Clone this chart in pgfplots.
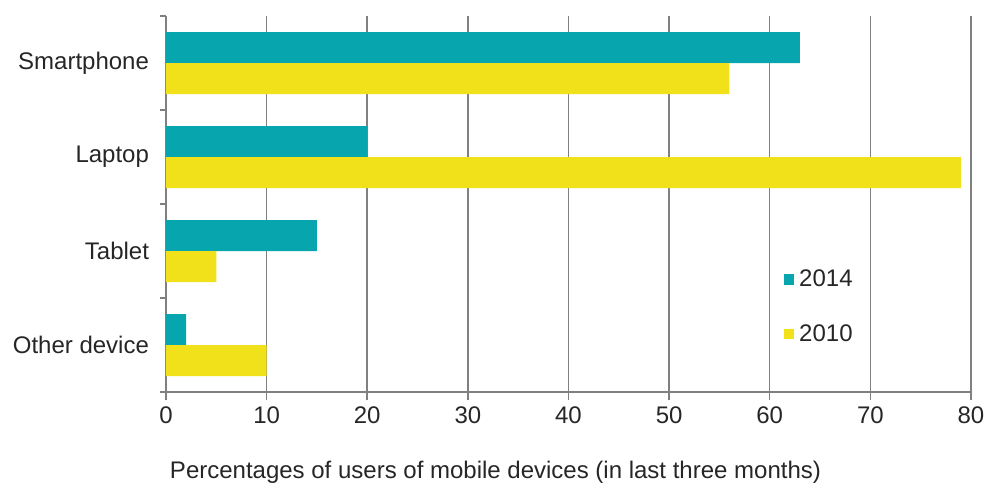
\documentclass[border=0pt]{standalone}
\usepackage{pgfplots}
\pgfplotsset{compat=1.18}
\usepackage{fontspec}
\setmainfont{Liberation Sans}

\definecolor{tealbar}{RGB}{7,166,174}
\definecolor{yellowbar}{RGB}{241,225,26}
\definecolor{gridgrey}{RGB}{128,128,128}

\begin{document}
\begin{tikzpicture}
% fixed canvas around the plot area
\useasboundingbox (-83pt,-48pt) rectangle (410.5pt,196pt);
\begin{axis}[
  at={(0,0)}, anchor=south west,
  scale only axis,
  width=402.5pt, height=188pt,
  xbar,
  bar width=15.5pt,
  xmin=0, xmax=80,
  ymin=-0.5, ymax=3.5,
  xtick={0,10,...,80},
  ytick={0,1,2,3},
  yticklabels={Other device,Tablet,Laptop,Smartphone},
  minor ytick={-0.5,0.5,1.5,2.5,3.5},
  major tick length=4pt,
  minor tick length=3pt,
  major x tick style={draw=gridgrey, line width=0.75pt},
  major y tick style={draw=none},
  minor y tick style={draw=gridgrey, line width=0.75pt},
  tick align=outside,
  axis lines*=left,
  axis line style={draw=gridgrey, line width=0.75pt},
  xmajorgrids,
  major x grid style={draw=gridgrey, line width=0.75pt},
  /pgf/number format/assume math mode=true,
  tick label style={font=\fontsize{12}{14}\selectfont, text=black!85},
  yticklabel style={xshift=-1pt},
  xlabel={Percentages of users of mobile devices (in last three months)},
  xlabel style={at={(axis description cs:0.5,0)}, anchor=center,
    xshift=-36.5pt, yshift=-40pt, font=\fontsize{12}{14}\selectfont, text=black!85},
  legend style={at={(axis description cs:0.767,0.332)}, anchor=north west,
    draw=none, fill=none, row sep=15.5pt, inner sep=0pt,
    font=\fontsize{12}{14}\selectfont, text=black!85,
    nodes={inner sep=1pt}},
  legend cell align=left,
  legend image code/.code={\fill[#1] (0pt,-2.6pt) rectangle (5.2pt,2.6pt);},
  legend style={/tikz/every odd column/.append style={column sep=1.5pt}},
]
% 2014 survey
\addplot[fill=tealbar, draw=none, bar shift=7.75pt]
  coordinates {(2,0) (15,1) (20,2) (63,3)};
% 2010 survey
\addplot[fill=yellowbar, draw=none, bar shift=-7.75pt]
  coordinates {(10,0) (5,1) (79,2) (56,3)};
\legend{2014,2010}
\end{axis}
\end{tikzpicture}
\end{document}
